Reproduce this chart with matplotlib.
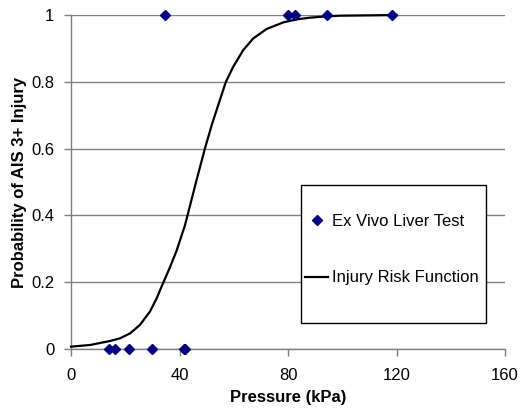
import matplotlib.pyplot as plt
from matplotlib.patches import Rectangle

# ex vivo liver test results (pressure in kPa, injury 0/1)
test_pressure_no = [14.1, 16.3, 21.5, 29.7, 41.5, 41.9]
test_injury_no = [0, 0, 0, 0, 0, 0]
test_pressure_yes = [34.7, 79.9, 82.6, 94.3, 118.2]
test_injury_yes = [1, 1, 1, 1, 1]

# injury risk function
risk_pressure = [0, 7.0, 14.4, 18.1, 21.8, 25.4, 29.1, 31.6, 33.4, 36.5,
                 39.0, 42.0, 46.3, 49.4, 51.9, 54.3, 57.1, 59.8, 63.5,
                 67.2, 72.1, 78.3, 83.2, 88.1, 94.3, 99.2, 110.0, 120.0]
risk_prob = [0.007, 0.012, 0.024, 0.032, 0.047, 0.072, 0.112, 0.152, 0.187,
             0.245, 0.296, 0.370, 0.506, 0.601, 0.671, 0.731, 0.800, 0.845,
             0.895, 0.930, 0.958, 0.978, 0.987, 0.992, 0.996, 0.998, 0.999,
             1.0]

x_ticks = [0, 40, 80, 120, 160]
y_ticks = [0, 0.2, 0.4, 0.6, 0.8, 1]
y_tick_labels = ["0", "0.2", "0.4", "0.6", "0.8", "1"]

plt.rcParams['font.family'] = ['Liberation Sans', 'DejaVu Sans']
plt.rcParams['font.size'] = 12

fig = plt.figure(figsize=(5.2, 4.12), dpi=100)
ax = fig.add_axes([71/520, 63/412, 434/520, 334/412])

ax.set_xlim(0, 160)
ax.set_ylim(0, 1)
ax.set_xticks(x_ticks)
ax.set_yticks(y_ticks)
ax.set_yticklabels(y_tick_labels)
ax.yaxis.grid(True, color="#808080", linewidth=1.0)
ax.set_axisbelow(True)

for side in ["top", "right"]:
    ax.spines[side].set_visible(False)
for side in ["left", "bottom"]:
    ax.spines[side].set_color("#808080")
    ax.spines[side].set_linewidth(1.0)
ax.tick_params(direction="out", length=5, width=1, color="#808080")
ax.tick_params(axis="x", pad=9)
ax.tick_params(axis="y", pad=7)

line, = ax.plot(risk_pressure, risk_prob, color="black", linewidth=1.6,
                clip_on=False, zorder=3, label="Injury Risk Function")
pts, = ax.plot(test_pressure_no + test_pressure_yes,
               test_injury_no + test_injury_yes,
               linestyle="none", marker="D", markersize=5.5, color="#000080",
               clip_on=False, zorder=4, label="Ex Vivo Liver Test")

ax.set_xlabel("Pressure (kPa)", fontweight="bold", labelpad=5)
ax.set_ylabel("Probability of AIS 3+ Injury", fontweight="bold", labelpad=3)

# legend box
fig.patches.append(Rectangle((301/520, 1 - 323/412), 185/520, 138/412,
                             transform=fig.transFigure, facecolor="white",
                             edgecolor="black", linewidth=1.0, zorder=5))
leg = fig.legend([pts, line], ["Ex Vivo Liver Test", "Injury Risk Function"],
                 loc="center left", bbox_to_anchor=(305/520, 1 - 249.5/412),
                 frameon=False, borderpad=0, numpoints=1, handlelength=1.4,
                 handletextpad=0.2, labelspacing=2.5, borderaxespad=0)
leg.set_zorder(6)

fig.savefig("out.png", dpi=100)
